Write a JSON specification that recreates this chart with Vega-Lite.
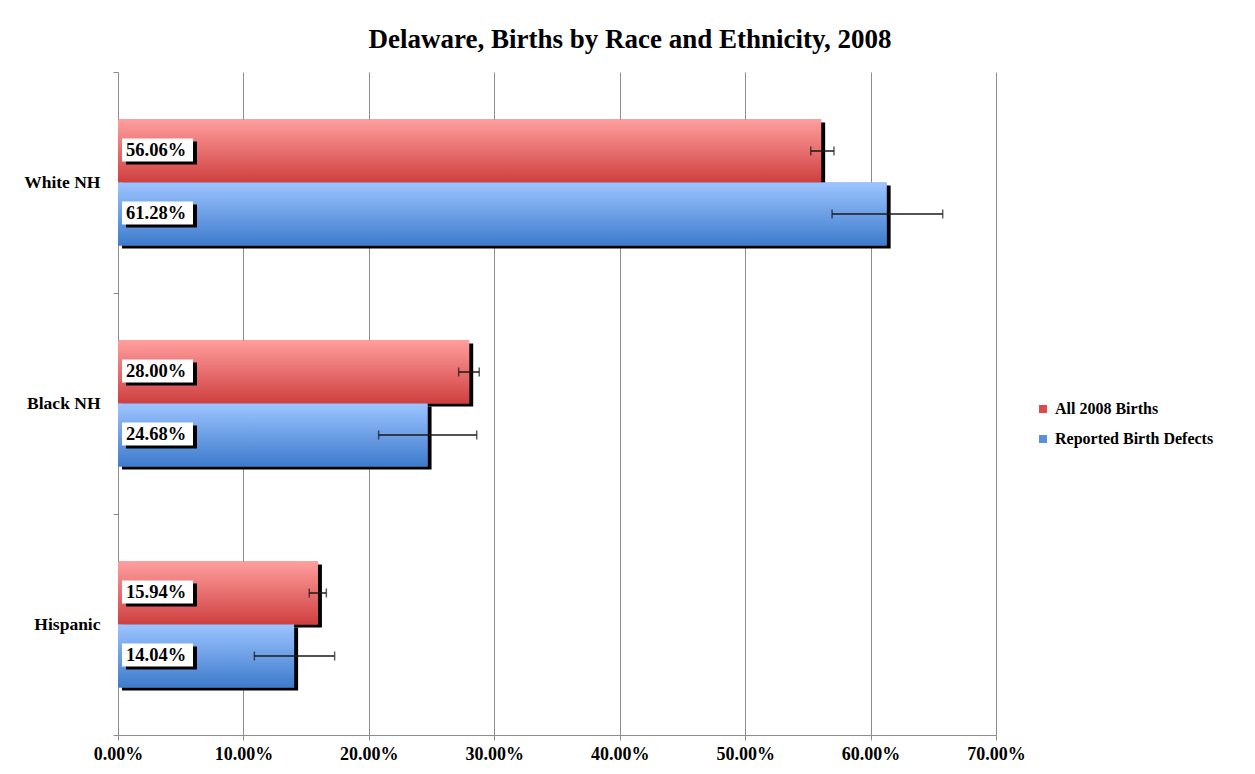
{
  "$schema": "https://vega.github.io/schema/vega-lite/v6.json",
  "width": 878,
  "height": 663,
  "autosize": {"type": "none"},
  "padding": {"left": 118, "top": 72, "right": 259, "bottom": 39},
  "background": "white",
  "title": {
    "text": "Delaware, Births by Race and Ethnicity, 2008",
    "font": "Liberation Serif",
    "fontSize": 27,
    "fontWeight": "bold",
    "color": "#000000",
    "anchor": "middle",
    "dx": 73,
    "offset": 9
  },
  "config": {
    "view": {"stroke": null},
    "font": "Liberation Serif"
  },
  "resolve": {"scale": {"yOffset": "independent"}},
  "data": {
    "values": [
      {"group": "White NH", "series": "All 2008 Births", "value": 0.5606, "lo": 0.5523, "hi": 0.5708},
      {"group": "White NH", "series": "Reported Birth Defects", "value": 0.6128, "lo": 0.5693, "hi": 0.6575},
      {"group": "Black NH", "series": "All 2008 Births", "value": 0.2800, "lo": 0.2716, "hi": 0.2880},
      {"group": "Black NH", "series": "Reported Birth Defects", "value": 0.2468, "lo": 0.2078, "hi": 0.2860},
      {"group": "Hispanic", "series": "All 2008 Births", "value": 0.1594, "lo": 0.1525, "hi": 0.1661},
      {"group": "Hispanic", "series": "Reported Birth Defects", "value": 0.1404, "lo": 0.1087, "hi": 0.1727}
    ]
  },
  "encoding": {
    "y": {
      "field": "group",
      "type": "nominal",
      "sort": ["White NH", "Black NH", "Hispanic"],
      "scale": {"paddingInner": 0, "paddingOuter": 0},
      "axis": {
        "title": null,
        "domainColor": "#8c8c8c",
        "tickColor": "#8c8c8c",
        "tickSize": 5,
        "tickBand": "extent",
        "labelFont": "Liberation Serif",
        "labelFontWeight": "bold",
        "labelFontSize": 17.5,
        "labelColor": "#000000",
        "labelPadding": 13
      }
    }
  },
  "layer": [
    {
      "mark": {"type": "bar", "fill": "#000000", "xOffset": 4},
      "encoding": {
        "yOffset": {"field": "series", "type": "nominal",
          "scale": {"domain": ["All 2008 Births", "Reported Birth Defects"], "paddingInner": 0, "paddingOuter": 0.754, "range": [3, 224]}},
        "x": {"field": "value", "type": "quantitative", "scale": {"domain": [0, 0.7]},
          "axis": {
            "title": null,
            "format": ".2%",
            "values": [0, 0.1, 0.2, 0.3, 0.4, 0.5, 0.6, 0.7],
            "labelFlush": false,
            "grid": true,
            "gridColor": "#8c8c8c",
            "gridWidth": 1,
            "domainColor": "#8c8c8c",
            "tickColor": "#8c8c8c",
            "tickSize": 5,
            "labelFont": "Liberation Serif",
            "labelFontWeight": "bold",
            "labelFontSize": 18,
            "labelColor": "#000000",
            "labelPadding": 5
          }
        }
      }
    },
    {
      "mark": {"type": "bar"},
      "encoding": {
        "yOffset": {"field": "series", "type": "nominal",
          "scale": {"domain": ["All 2008 Births", "Reported Birth Defects"], "paddingInner": 0, "paddingOuter": 0.754}},
        "x": {"field": "value", "type": "quantitative"},
        "color": {
          "field": "series",
          "type": "nominal",
          "scale": {"domain": ["All 2008 Births", "Reported Birth Defects"], "range": ["#dc4a4e", "#5a8ede"]},
          "legend": {
            "title": null,
            "orient": "none",
            "legendX": 917,
            "legendY": 329,
            "symbolType": "square",
            "symbolSize": 64,
            "symbolStrokeWidth": 0,
            "labelFont": "Liberation Serif",
            "labelFontWeight": "bold",
            "labelFontSize": 16,
            "labelColor": "#000000",
            "rowPadding": 14,
            "labelOffset": 4
          }
        }
      }
    },
    {
      "transform": [{"filter": "datum.series === 'All 2008 Births'"}],
      "mark": {"type": "bar", "fill": {"gradient": "linear", "x1": 0, "y1": 0, "x2": 0, "y2": 1,
        "stops": [{"offset": 0, "color": "#ff9e9e"}, {"offset": 1, "color": "#cf3f3f"}]}},
      "encoding": {
        "yOffset": {"field": "series", "type": "nominal",
          "scale": {"domain": ["All 2008 Births", "Reported Birth Defects"], "paddingInner": 0, "paddingOuter": 0.754}},
        "x": {"field": "value", "type": "quantitative"}}
    },
    {
      "transform": [{"filter": "datum.series === 'Reported Birth Defects'"}],
      "mark": {"type": "bar", "fill": {"gradient": "linear", "x1": 0, "y1": 0, "x2": 0, "y2": 1,
        "stops": [{"offset": 0, "color": "#9dc4ff"}, {"offset": 1, "color": "#3d7bcc"}]}},
      "encoding": {
        "yOffset": {"field": "series", "type": "nominal",
          "scale": {"domain": ["All 2008 Births", "Reported Birth Defects"], "paddingInner": 0, "paddingOuter": 0.754}},
        "x": {"field": "value", "type": "quantitative"}}
    },
    {
      "mark": {"type": "rule", "color": "#1a1a1a", "strokeWidth": 1.5},
      "encoding": {
        "yOffset": {"field": "series", "type": "nominal",
          "scale": {"domain": ["All 2008 Births", "Reported Birth Defects"], "paddingInner": 0, "paddingOuter": 0.754}},
        "x": {"field": "lo", "type": "quantitative"},
        "x2": {"field": "hi"}
      }
    },
    {
      "mark": {"type": "tick", "orient": "vertical", "color": "#1a1a1a", "thickness": 1.5, "size": 9},
      "encoding": {
        "yOffset": {"field": "series", "type": "nominal",
          "scale": {"domain": ["All 2008 Births", "Reported Birth Defects"], "paddingInner": 0, "paddingOuter": 0.754}},
        "x": {"field": "lo", "type": "quantitative"}}
    },
    {
      "mark": {"type": "tick", "orient": "vertical", "color": "#1a1a1a", "thickness": 1.5, "size": 9},
      "encoding": {
        "yOffset": {"field": "series", "type": "nominal",
          "scale": {"domain": ["All 2008 Births", "Reported Birth Defects"], "paddingInner": 0, "paddingOuter": 0.754}},
        "x": {"field": "hi", "type": "quantitative"}}
    },
    {
      "mark": {"type": "point", "shape": "M-1,-0.324H1V0.324H-1Z", "size": 5041, "filled": true, "fill": "#000000", "opacity": 1, "strokeWidth": 0, "xOffset": 43.5},
      "encoding": {
        "yOffset": {"field": "series", "type": "nominal",
          "scale": {"type": "point", "domain": ["All 2008 Births", "Reported Birth Defects"], "padding": 1, "range": [18, 207]}},
        "x": {"datum": 0, "type": "quantitative"}}
    },
    {
      "mark": {"type": "point", "shape": "M-1,-0.324H1V0.324H-1Z", "size": 5041, "filled": true, "fill": "#ffffff", "opacity": 1, "strokeWidth": 0, "xOffset": 39.5},
      "encoding": {
        "yOffset": {"field": "series", "type": "nominal",
          "scale": {"type": "point", "domain": ["All 2008 Births", "Reported Birth Defects"], "padding": 1, "range": [15, 204]}},
        "x": {"datum": 0, "type": "quantitative"}}
    },
    {
      "mark": {"type": "text", "align": "left", "baseline": "middle", "dx": 8, "font": "Liberation Serif", "fontWeight": "bold", "fontSize": 18.5, "color": "#000000"},
      "encoding": {
        "yOffset": {"field": "series", "type": "nominal",
          "scale": {"type": "point", "domain": ["All 2008 Births", "Reported Birth Defects"], "padding": 1, "range": [15, 204]}},
        "x": {"datum": 0, "type": "quantitative"},
        "text": {"field": "value", "type": "quantitative", "format": ".2%"}
      }
    }
  ]
}
